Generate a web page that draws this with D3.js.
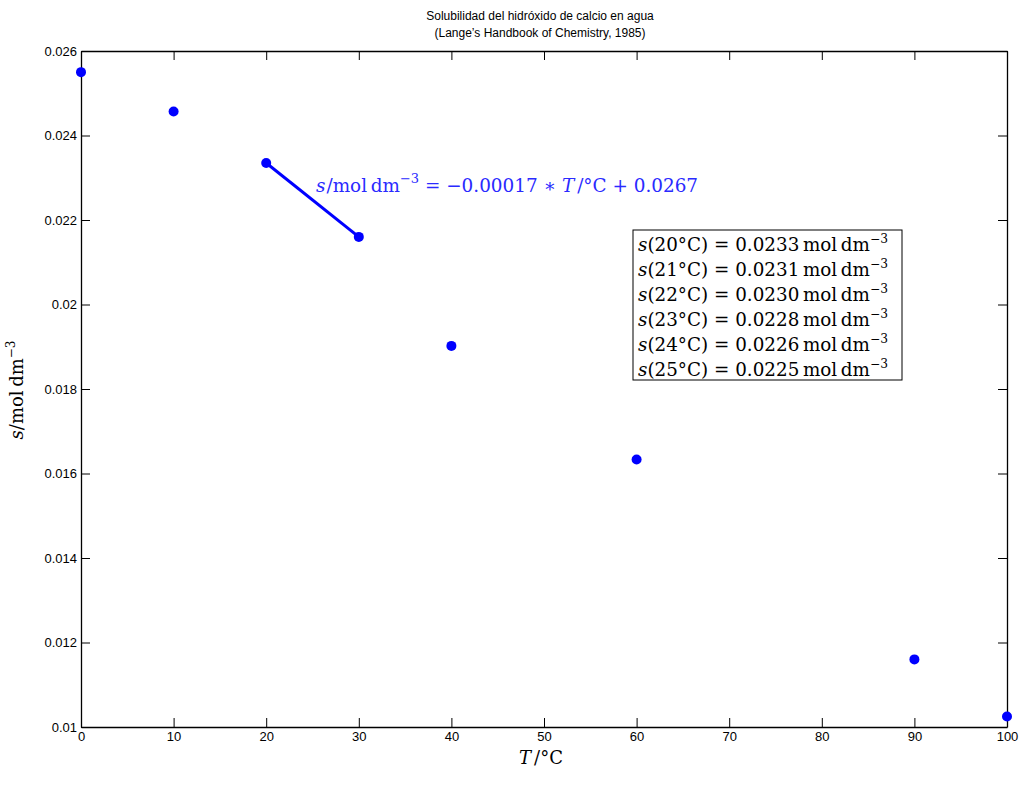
<!DOCTYPE html>
<html>
<head>
<meta charset="utf-8">
<script src="https://cdn.jsdelivr.net/npm/d3@7"></script>
<style>
  body { margin: 0; background: #fff; }
  svg { display: block; }
</style>
</head>
<body>
<svg id="chart" width="1019" height="791"></svg>
<script>
// Solubility of Ca(OH)2 in water vs temperature
const temps = [0, 10, 20, 30, 40, 60, 90, 100];
const solubility = [0.0255, 0.02457, 0.02335, 0.0216, 0.01902, 0.01633, 0.0116, 0.01025];
const fitTemps = [20, 30];
const xTicks = [0, 10, 20, 30, 40, 50, 60, 70, 80, 90, 100];
const yTicks = [0.01, 0.012, 0.014, 0.016, 0.018, 0.02, 0.022, 0.024, 0.026];
const tableTemps = [20, 21, 22, 23, 24, 25];
const tableValues = ["0.0233", "0.0231", "0.0230", "0.0228", "0.0226", "0.0225"];

const svg = d3.select("#chart");
const m = { left: 81, right: 1007, top: 51, bottom: 727 };
const x = d3.scaleLinear().domain([0, 100]).range([m.left, m.right]);
const y = d3.scaleLinear().domain([0.01, 0.026]).range([m.bottom, m.top]);
const blue = "#0000ff";
const serif = "'DejaVu Serif', 'Liberation Serif', serif";
const sans = "'Liberation Sans', Arial, sans-serif";

// axes with inward ticks on all sides
const tickLen = 9;
const fmtY = d => d3.format("")(+d.toFixed(3));
const bottomAx = d3.axisBottom(x).tickValues(xTicks).tickSizeInner(-tickLen).tickSizeOuter(0).tickPadding(5);
const leftAx = d3.axisLeft(y).tickValues(yTicks).tickSizeInner(-tickLen).tickSizeOuter(0).tickPadding(4).tickFormat(fmtY);
const topAx = d3.axisTop(x).tickValues(xTicks).tickSizeInner(-tickLen).tickSizeOuter(0).tickFormat("");
const rightAx = d3.axisRight(y).tickValues(yTicks).tickSizeInner(-tickLen).tickSizeOuter(0).tickFormat("");

function styleAxis(g) {
  g.selectAll("path").attr("stroke", "#000").attr("stroke-width", 1.3);
  g.selectAll("line").attr("stroke", "#000").attr("stroke-width", 1);
  g.selectAll("text").attr("font-family", sans).attr("font-size", 13).attr("fill", "#000");
}
svg.append("g").attr("transform", `translate(0,${m.bottom})`).call(bottomAx).call(styleAxis);
svg.append("g").attr("transform", `translate(${m.left},0)`).call(leftAx).call(styleAxis);
svg.append("g").attr("transform", `translate(0,${m.top})`).call(topAx).call(styleAxis);
svg.append("g").attr("transform", `translate(${m.right},0)`).call(rightAx).call(styleAxis);

// title
const title = svg.append("text").attr("font-family", sans).attr("font-size", 12)
  .attr("text-anchor", "middle").attr("fill", "#000");
title.append("tspan").attr("x", 540).attr("y", 20).text("Solubilidad del hidróxido de calcio en agua");
title.append("tspan").attr("x", 540).attr("y", 37).text("(Lange’s Handbook of Chemistry, 1985)");

// fitted segment between 20 and 30 °C
const fitPts = fitTemps.map(t => [t, solubility[temps.indexOf(t)]]);
svg.append("path").datum(fitPts)
  .attr("d", d3.line().x(d => x(d[0])).y(d => y(d[1])))
  .attr("stroke", blue).attr("stroke-width", 3).attr("fill", "none");

// data points
svg.append("g").selectAll("circle").data(temps.map((t, i) => [t, solubility[i]]))
  .join("circle")
  .attr("cx", d => x(d[0])).attr("cy", d => y(d[1])).attr("r", 5)
  .attr("fill", blue);

// fit equation
const eq = svg.append("text").attr("x", 316).attr("y", 192)
  .attr("font-family", serif).attr("font-size", 18.4).attr("fill", "#2a2aff");
eq.append("tspan").attr("font-style", "italic").text("s");
eq.append("tspan").attr("dx", 1).text("/mol\u2009dm");
eq.append("tspan").attr("dy", -9).attr("font-size", 13).text("−3");
eq.append("tspan").attr("dy", 9).text(" = −0.00017 ∗ ");
eq.append("tspan").attr("font-style", "italic").text("T");
eq.append("tspan").attr("dx", 3).text("/°C + 0.0267");

// table of interpolated values
const box = svg.append("g");
box.append("rect").attr("x", 633).attr("y", 230).attr("width", 269).attr("height", 150)
  .attr("fill", "#fff").attr("stroke", "#000").attr("stroke-width", 1);
tableTemps.forEach((t, i) => {
  const tx = box.append("text").attr("x", 638).attr("y", 251 + i * 25)
    .attr("font-family", serif).attr("font-size", 18).attr("fill", "#000")
    .attr("textLength", 250).attr("lengthAdjust", "spacingAndGlyphs");
  tx.append("tspan").attr("font-style", "italic").text("s");
  tx.append("tspan").text(`(${t}°C) = ${tableValues[i]}\u2009mol\u2009dm`);
  tx.append("tspan").attr("dy", -8).attr("font-size", 12).text("−3");
});

// axis labels
const xl = svg.append("text").attr("x", 541).attr("y", 764).attr("text-anchor", "middle")
  .attr("font-family", serif).attr("font-size", 18).attr("fill", "#000");
xl.append("tspan").attr("font-style", "italic").text("T");
xl.append("tspan").attr("dx", 3).text("/°C");

const yl = svg.append("text").attr("transform", "translate(23,390) rotate(-90)")
  .attr("text-anchor", "middle").attr("font-family", serif).attr("font-size", 18).attr("fill", "#000");
yl.append("tspan").attr("font-style", "italic").text("s");
yl.append("tspan").text("/mol\u2009dm");
yl.append("tspan").attr("dy", -8).attr("font-size", 12).text("−3");
</script>
</body>
</html>
